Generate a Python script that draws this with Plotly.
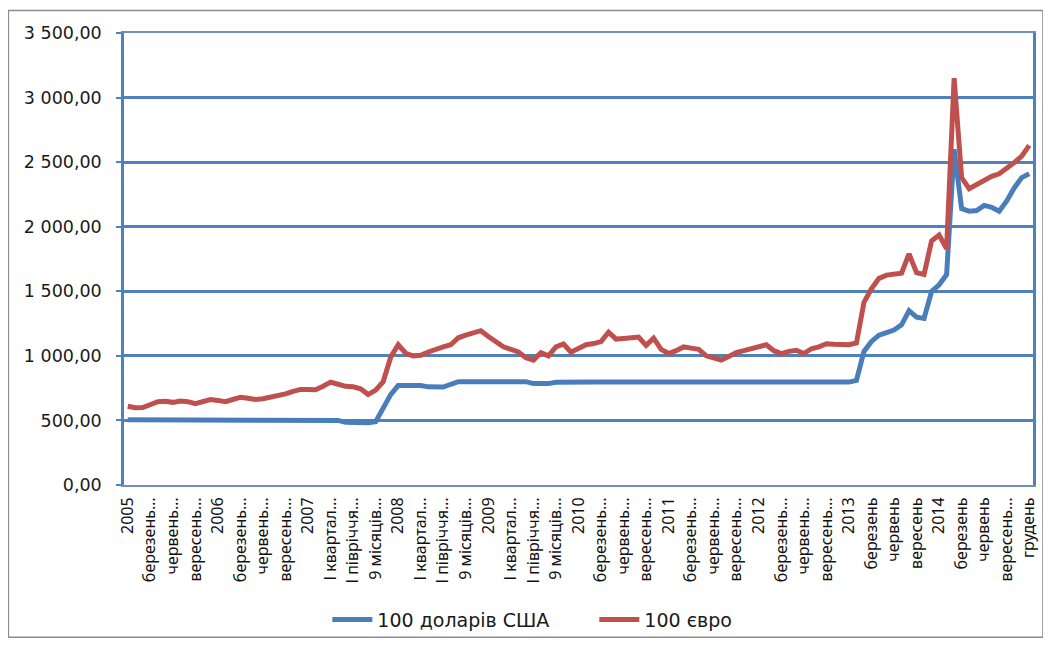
import plotly.graph_objects as go

# 100 USD in UAH (monthly points)
usd = [505, 505, 505, 505, 505, 505, 505, 505, 505, 505,
       505, 505, 505, 505, 505, 505, 505, 505, 505, 505,
       505, 505, 505, 505, 505, 505, 505, 505, 500, 485,
       482, 482, 482, 490, 600, 700, 770, 770, 770, 770,
       760, 755, 758, 780, 800, 800, 800, 800, 800, 800,
       800, 800, 800, 800, 785, 783, 785, 795, 797, 797,
       797, 797, 797, 797, 797, 797, 797, 797, 797, 797,
       797, 797, 797, 797, 797, 797, 797, 797, 797, 797,
       797, 797, 797, 797, 797, 797, 797, 797, 797, 797,
       797, 797, 797, 797, 797, 797, 797, 810, 1034, 1112,
       1160, 1180, 1200, 1240, 1350, 1300, 1290, 1500, 1550, 1630,
       2600, 2140, 2120, 2125, 2165, 2150, 2120, 2200, 2300, 2380,
       2410]

# 100 EUR in UAH (monthly points)
eur = [610, 598, 600, 620, 645, 648, 640, 650, 645, 630,
       645, 662, 655, 645, 662, 680, 672, 662, 668, 680,
       688, 705, 725, 740, 740, 738, 765, 797, 780, 764,
       760, 745, 700, 735, 800, 990, 1086, 1020, 1000, 1005,
       1030, 1055, 1070, 1086, 1140, 1160, 1180, 1195, 1150, 1112,
       1070, 1050, 1030, 985, 967, 1025, 1000, 1070, 1092, 1028,
       1060, 1086, 1095, 1110, 1183, 1130, 1135, 1140, 1145, 1081,
       1137, 1050, 1018, 1040, 1069, 1060, 1051, 1000, 980, 967,
       995, 1025, 1040, 1056, 1075, 1086, 1040, 1018, 1035, 1043,
       1018, 1055, 1070, 1094, 1090, 1086, 1086, 1100, 1415, 1520,
       1600, 1625, 1631, 1640, 1790, 1645, 1631, 1890, 1935, 1830,
       3150, 2380, 2295, 2330, 2365, 2390, 2410, 2450, 2496, 2547,
       2630]

x_index = list(range(len(usd)))

E = "\u2026"
tick_labels = [
    "2005", "березень" + E, "червень" + E, "вересень" + E,
    "2006", "березень" + E, "червень" + E, "вересень" + E,
    "2007", "І квартал" + E, "І півріччя" + E, "9 місяців" + E,
    "2008", "І квартал" + E, "І півріччя" + E, "9 місяців" + E,
    "2009", "І квартал" + E, "І півріччя" + E, "9 місяців" + E,
    "2010", "березень" + E, "червень" + E, "вересень" + E,
    "2011", "березень" + E, "червень" + E, "вересень" + E,
    "2012", "березень" + E, "червень" + E, "вересень" + E,
    "2013", "березень", "червень", "вересень",
    "2014", "березень", "червень", "вересень" + E,
    "грудень",
]
tick_positions = x_index[::3]

y_ticks = [0, 500, 1000, 1500, 2000, 2500, 3000, 3500]
y_tick_labels = ["0,00", "500,00", "1 000,00", "1 500,00", "2 000,00",
                 "2 500,00", "3 000,00", "3 500,00"]

series_names = ["100 доларів США", "100 євро"]
BLUE = "#4a7ebb"
RED = "#c0504d"
GRID = "#4f81bd"

fig = go.Figure()
fig.add_trace(go.Scatter(x=x_index, y=usd, mode="lines", name=series_names[0],
                         line=dict(color=BLUE, width=5)))
fig.add_trace(go.Scatter(x=x_index, y=eur, mode="lines", name=series_names[1],
                         line=dict(color=RED, width=5)))

# page body has an 8px margin; figure is laid out in page coordinates minus 8
OFF = 8
W, H = 1043, 643
L = 124 - OFF
T = 33 - OFF
R = W - (1036 - OFF)
B = H - (493 - OFF)
pw, ph = W - L - R, H - T - B

def px(xp):
    return (xp - OFF - L) / pw

def py(yp):
    return (H - B - (yp - OFF)) / ph

fig.update_layout(
    width=W, height=H,
    margin=dict(l=L, r=R, t=T, b=B),
    paper_bgcolor="white", plot_bgcolor="white",
    font=dict(family="DejaVu Sans, sans-serif", color="#1a1a1a"),
    showlegend=True,
    legend=dict(orientation="h", x=px(328), xanchor="left", y=py(630), yanchor="middle",
                font=dict(family="DejaVu Sans, sans-serif", size=19, color="#1a1a1a"),
                itemwidth=40, entrywidth=212, entrywidthmode="pixels",
                bgcolor="rgba(0,0,0,0)"),
    shapes=[dict(type="rect", xref="paper", yref="paper",
                 x0=px(8), x1=px(1046), y0=py(648), y1=py(10),
                 line=dict(color="#8c8c8c", width=1.5), layer="below")],
)

fig.update_xaxes(
    range=[-0.5, len(usd) - 0.5],
    tickmode="array", tickvals=tick_positions, ticktext=tick_labels,
    tickangle=-90, tickfont=dict(family="Noto Sans, Open Sans, sans-serif", size=16, color="#111111"),
    showgrid=False, zeroline=False,
    showline=True, linecolor="#6f8fbf", linewidth=2, mirror=True,
    ticks="", ticklabelstandoff=4,
)
fig.update_yaxes(
    range=[0, 3500],
    tickmode="array", tickvals=y_ticks, ticktext=y_tick_labels,
    tickfont=dict(family="DejaVu Sans, sans-serif", size=17.5, color="#1a1a1a"),
    showgrid=True, gridcolor=GRID, gridwidth=2.5,
    zeroline=False,
    showline=True, linecolor=GRID, linewidth=2.5, mirror=True,
    ticks="outside", ticklen=5, tickcolor=GRID, tickwidth=2,
    ticklabelstandoff=11,
)

fig.write_html("out.html")
